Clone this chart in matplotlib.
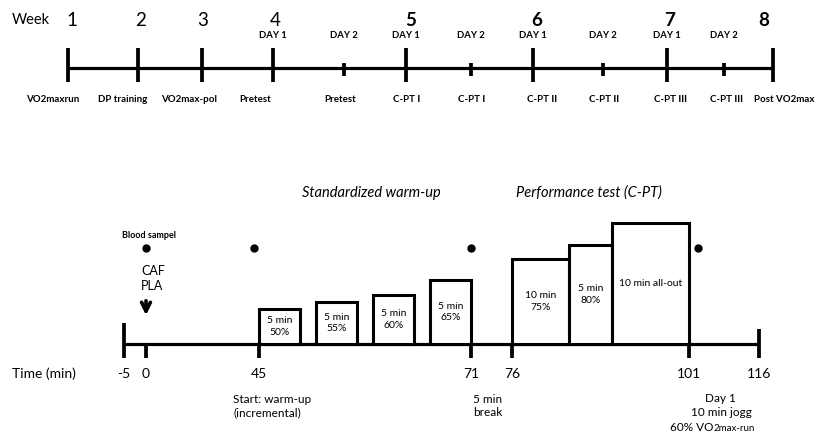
import numpy as np
import matplotlib.pyplot as plt

plt.rcParams['font.family'] = ['Lato', 'DejaVu Sans']

# ---- top timeline (weeks) ----
week_nums = ['1', '2', '3', '4', '5', '6', '7', '8']
week_bold = [False, False, False, False, True, True, True, True]
session_week = [1, 2, 3, 4, 4.5, 5, 5.5, 6, 6.5, 7, 7.5, 8]
session_day = ['', '', '', 'DAY 1', 'DAY 2', 'DAY 1', 'DAY 2', 'DAY 1', 'DAY 2', 'DAY 1', 'DAY 2', '']
session_name = ['VO2maxrun', 'DP training', 'VO2max-pol', 'Pretest', 'Pretest', 'C-PT I', 'C-PT I',
                'C-PT II', 'C-PT II', 'C-PT III', 'C-PT III', 'Post VO2max']

# ---- lower timeline (one test day, minutes) ----
time_ticks = [-5, 0, 45, 71, 76, 101, 116]
block_start = [45, 52, 59, 66, 76, 86, 91]
block_len = [5, 5, 5, 5, 10, 5, 10]
block_text = ['5 min\n50%', '5 min\n55%', '5 min\n60%', '5 min\n65%', '10 min\n75%', '5 min\n80%', '10 min all-out']
blood_sample = [0, 43, 71, 103]

# layout (pixels) - the schematic is not to scale, so use piecewise scales
wk_anchor = [0, 1, 2, 3, 4, 4.5, 5, 5.5, 6, 6.5, 7, 7.5, 8, 9]
wk_px = [0, 68, 138, 202, 273, 344, 406, 471, 533, 603, 667, 724, 773, 814]
min_anchor = [-30, -5, 0, 45, 71, 76, 86, 91, 101, 116, 140]
min_px = [0, 124, 146, 259, 471, 512, 569, 612, 689, 759, 814]
week_dx = [4, 3, 1, 2, 5, 4, 3, -9]
session_dx = [-15, -15, -13, -18, -4, 1, 1, 9, 1, 3, 3, 11]
block_h = [35, 42, 49, 64, 85, 99, 121]
base_y = 344


def fwd_w(x):
    return np.interp(x, wk_anchor, wk_px)


def inv_w(p):
    return np.interp(p, wk_px, wk_anchor)


def fwd_m(x):
    return np.interp(x, min_anchor, min_px)


def inv_m(p):
    return np.interp(p, min_px, min_anchor)


fig = plt.figure(figsize=(8.14, 4.32), dpi=100)
ax0 = fig.add_axes([0, 0, 1, 1], label='text')
ax0.set_xlim(0, 814)
ax0.set_ylim(432, 0)
ax0.axis('off')

axT = fig.add_axes([0, 0, 1, 1], label='weeks')
axT.set_xscale('function', functions=(fwd_w, inv_w))
axT.set_xlim(0, 9)
axT.set_ylim(432, 0)
axT.axis('off')

axB = fig.add_axes([0, 0, 1, 1], label='minutes')
axB.set_xscale('function', functions=(fwd_m, inv_m))
axB.set_xlim(-30, 140)
axB.set_ylim(432, 0)
axB.axis('off')

# top timeline
axT.plot([1, 8], [68, 68], color='black', lw=2.3, solid_capstyle='butt')
for i in range(len(session_week)):
    w = session_week[i]
    if w == int(w):
        axT.vlines(w, 48, 82, color='black', lw=2.7)
    else:
        axT.vlines(w, 63, 76, color='black', lw=2.7)
    if session_day[i]:
        axT.text(w, 36, session_day[i], ha='center', va='center', fontsize=6.8, fontweight='bold')
    axT.annotate(session_name[i], (w, 100), xytext=(session_dx[i], 0), textcoords='offset pixels',
                 ha='center', va='center', fontsize=7, fontweight='bold')

for i in range(len(week_nums)):
    axT.annotate(week_nums[i], (i + 1, 20), xytext=(week_dx[i], 0), textcoords='offset pixels',
                 ha='center', va='center', fontsize=13.5,
                 fontweight='bold' if week_bold[i] else 'normal')
ax0.text(12, 20, 'Week', ha='left', va='center', fontsize=10.5)

# lower timeline
axB.plot([-5, 116], [base_y, base_y], color='black', lw=2.3, solid_capstyle='butt')
axB.bar(block_start, [-h for h in block_h], width=block_len, bottom=base_y, align='edge',
        color='white', edgecolor='black', lw=2.2, zorder=3)
for i in range(len(block_text)):
    mid = block_start[i] + block_len[i] / 2.0
    axB.text(mid, base_y - block_h[i] / 2.0, block_text[i], ha='center', va='center',
             fontsize=7.5, linespacing=1.3, zorder=4)

for t in time_ticks:
    top = base_y
    if t == -5:
        top = 323
    elif t == 116:
        top = 329
    axB.vlines(t, top, 358, color='black', lw=2.7, zorder=5)
    axB.text(t, 374, str(t), ha='center', va='center', fontsize=10)

axB.plot(blood_sample, [248] * len(blood_sample), 'o', color='black', ms=5)
axB.annotate('', xy=(0, 318), xytext=(0, 298),
             arrowprops=dict(arrowstyle='->', lw=2.6, color='black', mutation_scale=16))

ax0.text(149, 235, 'Blood sampel', ha='center', va='center', fontsize=6.5, fontweight='bold')
ax0.text(141, 271, 'CAF', ha='left', va='center', fontsize=9)
ax0.text(141, 286, 'PLA', ha='left', va='center', fontsize=9)
ax0.text(371, 193, 'Standardized warm-up', ha='center', va='center', fontsize=10.5, style='italic')
ax0.text(589, 193, 'Performance test (C-PT)', ha='center', va='center', fontsize=10.5, style='italic')

ax0.text(12, 374, 'Time (min)', ha='left', va='center', fontsize=10)
ax0.text(233, 406, 'Start: warm-up\n(incremental)', ha='left', va='center', fontsize=8.5, linespacing=1.25)
ax0.text(473, 406, '5 min\nbreak', ha='left', va='center', fontsize=8.5, linespacing=1.25)
ax0.text(720, 398, 'Day 1', ha='center', va='center', fontsize=8.5)
ax0.text(721, 413, '10 min jogg', ha='center', va='center', fontsize=8.5)
ax0.text(713, 431, '60% VO', ha='right', va='baseline', fontsize=8.5)
ax0.text(714, 431, '2max-run', ha='left', va='baseline', fontsize=7)

fig.savefig('out.png', dpi=100)
